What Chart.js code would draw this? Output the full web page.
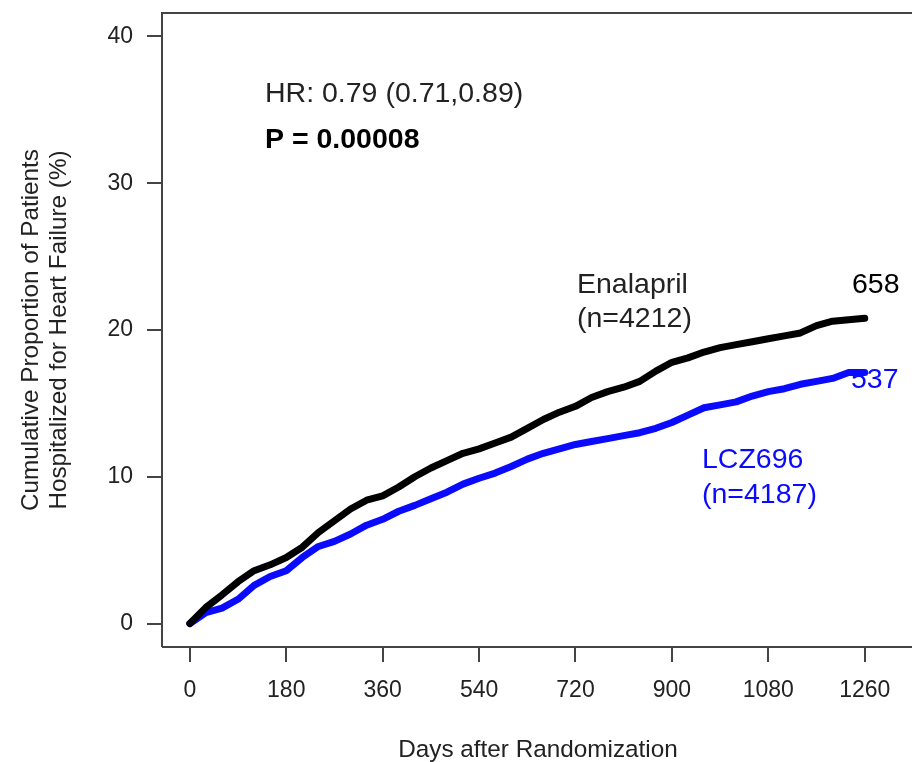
<!DOCTYPE html>
<html>
<head>
<meta charset="utf-8">
<script src="https://cdn.jsdelivr.net/npm/chart.js@4.4.1/dist/chart.umd.min.js"></script>
<style>
  html, body { margin: 0; padding: 0; background: #fff; overflow: hidden; }
  #wrap { width: 912px; height: 762px; overflow: hidden; }
</style>
</head>
<body>
<div id="wrap"><canvas id="km" width="914" height="762"></canvas></div>
<script>
// Kaplan-Meier: hospitalisation for heart failure
const dias = [0, 30, 60, 90, 120, 150, 180, 210, 240, 270, 300, 330, 360, 390, 420, 450, 480, 510, 540, 570, 600, 630, 660, 690, 720, 750, 780, 810, 840, 870, 900, 930, 960, 990, 1020, 1050, 1080, 1110, 1140, 1170, 1200, 1230, 1260];

const enalapril = [0, 1.1, 1.95, 2.85, 3.6, 4.0, 4.5, 5.2, 6.2, 7.0, 7.8, 8.4, 8.7, 9.3, 10.0, 10.6, 11.1, 11.6, 11.9, 12.3, 12.7, 13.3, 13.9, 14.4, 14.8, 15.4, 15.8, 16.1, 16.5, 17.2, 17.8, 18.1, 18.5, 18.8, 19.0, 19.2, 19.4, 19.6, 19.8, 20.3, 20.6, 20.7, 20.8];

const lcz696 = [0, 0.75, 1.05, 1.65, 2.6, 3.2, 3.6, 4.5, 5.25, 5.6, 6.1, 6.7, 7.1, 7.65, 8.05, 8.5, 8.95, 9.5, 9.9, 10.25, 10.7, 11.2, 11.6, 11.9, 12.2, 12.4, 12.6, 12.8, 13.0, 13.3, 13.7, 14.2, 14.7, 14.9, 15.1, 15.5, 15.8, 16.0, 16.3, 16.5, 16.7, 17.1, 17.1];

const ticksX = [0, 180, 360, 540, 720, 900, 1080, 1260];
const ticksY = [0, 10, 20, 30, 40];

const FONTE = "'Liberation Sans', Arial, sans-serif";
const AZUL = "#0a0aff";

// textos soltos dentro do painel (posição em pixels)
const anotacoes = [
  { texto: "HR: 0.79 (0.71,0.89)", x: 265, y: 102, cor: "#222", peso: "normal" },
  { texto: "P = 0.00008", x: 265, y: 148, cor: "#000", peso: "bold" },
  { texto: "Enalapril", x: 577, y: 293, cor: "#222", peso: "normal" },
  { texto: "(n=4212)", x: 577, y: 327, cor: "#222", peso: "normal" },
  { texto: "658", x: 852, y: 293, cor: "#000", peso: "normal" },
  { texto: "537", x: 851, y: 388, cor: AZUL, peso: "normal" },
  { texto: "LCZ696", x: 702, y: 468, cor: AZUL, peso: "normal" },
  { texto: "(n=4187)", x: 702, y: 503, cor: AZUL, peso: "normal" },
];

// caixa estilo R (sem lado direito visível) + textos
const pluginCaixa = {
  id: "caixa",
  afterDraw(chart) {
    const { ctx, chartArea: a } = chart;
    ctx.save();
    ctx.strokeStyle = "#444";
    ctx.lineWidth = 2;
    ctx.beginPath();
    ctx.moveTo(a.left, a.bottom);
    ctx.lineTo(a.left, a.top);
    ctx.lineTo(a.right + 10, a.top);
    ctx.moveTo(a.left, a.bottom);
    ctx.lineTo(a.right + 10, a.bottom);
    ctx.stroke();

    ctx.textBaseline = "alphabetic";
    ctx.textAlign = "left";
    anotacoes.forEach((t) => {
      ctx.font = `${t.peso} 28.5px ${FONTE}`;
      ctx.fillStyle = t.cor;
      ctx.fillText(t.texto, t.x, t.y);
    });
    ctx.restore();
  },
};

function serie(label, valores, cor) {
  return {
    label,
    data: dias.map((d, i) => ({ x: d, y: valores[i] })),
    borderColor: cor,
    backgroundColor: cor,
    borderWidth: 7,
    pointRadius: 0,
    tension: 0,
    borderJoinStyle: "round",
    borderCapStyle: "round",
    clip: false,
  };
}

// sem folga extra das etiquetas nas pontas: a área do gráfico fica onde o layout manda
function semFolga(s) {
  s.paddingTop = 0;
  s.paddingBottom = 0;
  s.paddingLeft = 0;
  s.paddingRight = 0;
}

new Chart(document.getElementById("km"), {
  type: "line",
  data: {
    datasets: [
      serie("Enalapril", enalapril, "#000"),
      serie("LCZ696", lcz696, AZUL),
    ],
  },
  options: {
    responsive: false,
    animation: false,
    events: [],
    layout: { padding: { top: 13, left: 0, right: 0, bottom: 0 } },
    plugins: { legend: { display: false }, tooltip: { enabled: false } },
    scales: {
      x: {
        type: "linear",
        min: -52,
        max: 1352,
        afterBuildTicks: (s) => { s.ticks = ticksX.map((v) => ({ value: v })); },
        afterFit: (s) => { s.height = 115; semFolga(s); },
        border: { display: false },
        grid: { drawOnChartArea: false, drawTicks: true, tickLength: 15, color: "#444", lineWidth: 2 },
        ticks: {
          color: "#222",
          padding: 15,
          maxRotation: 0,
          autoSkip: false,
          font: { family: FONTE, size: 23 },
          callback: (v) => String(v),
        },
        title: {
          display: true,
          text: "Days after Randomization",
          color: "#222",
          padding: { top: 0, bottom: 0 },
          font: { family: FONTE, size: 24.3, lineHeight: 1 },
        },
      },
      y: {
        type: "linear",
        min: -1.6,
        max: 41.6,
        afterBuildTicks: (s) => { s.ticks = ticksY.map((v) => ({ value: v })); },
        afterFit: (s) => { s.width = 162; semFolga(s); },
        border: { display: false },
        grid: { drawOnChartArea: false, drawTicks: true, tickLength: 15, color: "#444", lineWidth: 2 },
        ticks: {
          color: "#222",
          padding: 14,
          autoSkip: false,
          font: { family: FONTE, size: 23 },
          callback: (v) => String(v),
        },
        title: {
          display: true,
          text: ["Cumulative Proportion of Patients", "Hospitalized for Heart Failure (%)"],
          color: "#222",
          padding: { top: 17, bottom: 0 },
          font: { family: FONTE, size: 24.3, lineHeight: 1.17 },
        },
      },
    },
  },
  plugins: [pluginCaixa],
});
</script>
</body>
</html>
